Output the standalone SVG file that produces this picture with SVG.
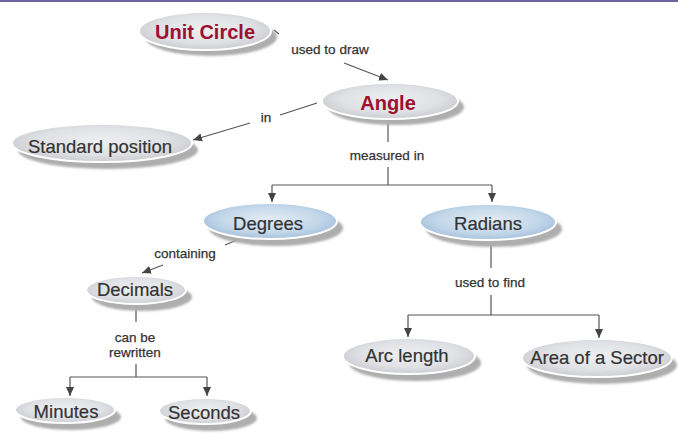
<svg xmlns="http://www.w3.org/2000/svg" width="678" height="434" viewBox="0 0 678 434">
<defs>
<radialGradient id="gGray" cx="50%" cy="45%" r="60%">
<stop offset="0" stop-color="#eeeff1"/>
<stop offset="0.6" stop-color="#e0e1e4"/>
<stop offset="1" stop-color="#c6c7ca"/>
</radialGradient>
<radialGradient id="gBlue" cx="50%" cy="45%" r="60%">
<stop offset="0" stop-color="#e3ecf5"/>
<stop offset="0.6" stop-color="#c4d8ea"/>
<stop offset="1" stop-color="#9ebcd9"/>
</radialGradient>
<filter id="blur" x="-20%" y="-40%" width="140%" height="180%">
<feGaussianBlur stdDeviation="1"/>
</filter>
<marker id="arr" markerUnits="userSpaceOnUse" markerWidth="10" markerHeight="10" viewBox="0 0 10 10" refX="9" refY="5" orient="auto">
<path d="M0,1 L9,5 L0,9 Z" fill="#444"/>
</marker>
</defs>
<style>
.sh{fill:#aeaeae;filter:url(#blur)}
.g{fill:url(#gGray);stroke:#ffffff;stroke-width:2}
.b{fill:url(#gBlue);stroke:#ffffff;stroke-width:2}
.t{font-family:"Liberation Sans",Arial,sans-serif;font-size:18.5px;fill:#333;stroke:#333;stroke-width:0.2;text-anchor:middle}
.tr{font-family:"Liberation Sans",Arial,sans-serif;font-size:20px;font-weight:bold;fill:#9c1030;text-anchor:middle}
.l{font-family:"Liberation Sans",Arial,sans-serif;font-size:13.5px;fill:#333;stroke:#333;stroke-width:0.25;text-anchor:middle}
.c{stroke:#555;stroke-width:1.2;fill:none}
.a{marker-end:url(#arr)}
</style>
<rect x="0" y="0" width="678" height="2" fill="#6b63a0"/>

<g id="connectors">
<line class="c" x1="274" y1="30" x2="279" y2="34"/>
<line class="c a" x1="344" y1="63" x2="388" y2="80"/>
<line class="c" x1="317" y1="103" x2="280" y2="115"/>
<line class="c a" x1="250" y1="123" x2="193" y2="140"/>
<line class="c" x1="388" y1="120" x2="388" y2="142"/>
<line class="c" x1="388" y1="167" x2="388" y2="185"/>
<line class="c" x1="272" y1="185" x2="492" y2="185"/>
<line class="c a" x1="272" y1="185" x2="272" y2="202"/>
<line class="c a" x1="492" y1="185" x2="492" y2="202"/>
<line class="c" x1="237" y1="240" x2="225" y2="245"/>
<line class="c a" x1="163" y1="265" x2="142" y2="273"/>
<line class="c" x1="136" y1="306" x2="136" y2="322"/>
<line class="c" x1="136" y1="364" x2="136" y2="377"/>
<line class="c" x1="70" y1="377" x2="207" y2="377"/>
<line class="c a" x1="70" y1="377" x2="70" y2="396"/>
<line class="c a" x1="207" y1="377" x2="207" y2="396"/>
<line class="c" x1="491" y1="242" x2="491" y2="268"/>
<line class="c" x1="491" y1="295" x2="491" y2="315"/>
<line class="c" x1="408" y1="315" x2="599" y2="315"/>
<line class="c a" x1="408" y1="315" x2="408" y2="337"/>
<line class="c a" x1="599" y1="315" x2="599" y2="338"/>
<text class="l" x="330" y="54">used to draw</text>
<text class="l" x="266" y="122">in</text>
<text class="l" x="387" y="160">measured in</text>
<text class="l" x="185" y="258">containing</text>
<text class="l" x="135" y="342">can be</text>
<text class="l" x="135" y="357">rewritten</text>
<text class="l" x="490" y="287">used to find</text>
</g>

<g id="unit-circle">
<ellipse class="sh" cx="211" cy="37" rx="66" ry="19"/>
<ellipse class="g" cx="205" cy="31" rx="66" ry="19"/>
<text class="tr" x="205" y="39">Unit Circle</text>
</g>
<g id="angle">
<ellipse class="sh" cx="396" cy="107" rx="68" ry="18"/>
<ellipse class="g" cx="390" cy="101" rx="68" ry="18"/>
<text class="tr" x="388" y="110">Angle</text>
</g>
<g id="standard-position">
<ellipse class="sh" cx="108" cy="150" rx="90" ry="19"/>
<ellipse class="g" cx="102" cy="143" rx="90" ry="19"/>
<text class="t" x="100" y="153">Standard position</text>
</g>
<g id="degrees">
<ellipse class="sh" cx="276" cy="228" rx="67" ry="18"/>
<ellipse class="b" cx="270" cy="221" rx="67" ry="18"/>
<text class="t" x="268" y="230">Degrees</text>
</g>
<g id="radians">
<ellipse class="sh" cx="494" cy="229" rx="68" ry="18"/>
<ellipse class="b" cx="488" cy="222" rx="68" ry="18"/>
<text class="t" x="488" y="230">Radians</text>
</g>
<g id="decimals">
<ellipse class="sh" cx="142" cy="297" rx="50" ry="14"/>
<ellipse class="g" cx="136" cy="290" rx="50" ry="14"/>
<text class="t" x="135" y="296">Decimals</text>
</g>
<g id="minutes">
<ellipse class="sh" cx="71" cy="417" rx="50" ry="13"/>
<ellipse class="g" cx="65" cy="410" rx="50" ry="13"/>
<text class="t" x="66" y="418">Minutes</text>
</g>
<g id="seconds">
<ellipse class="sh" cx="211" cy="418" rx="46" ry="13"/>
<ellipse class="g" cx="205" cy="411" rx="46" ry="13"/>
<text class="t" x="204" y="419">Seconds</text>
</g>
<g id="arc-length">
<ellipse class="sh" cx="415" cy="363" rx="66" ry="18"/>
<ellipse class="g" cx="409" cy="356" rx="66" ry="18"/>
<text class="t" x="407" y="362">Arc length</text>
</g>
<g id="area-of-a-sector">
<ellipse class="sh" cx="602" cy="365" rx="75" ry="19"/>
<ellipse class="g" cx="597" cy="358" rx="75" ry="19"/>
<text class="t" x="597" y="364">Area of a Sector</text>
</g>
</svg>
